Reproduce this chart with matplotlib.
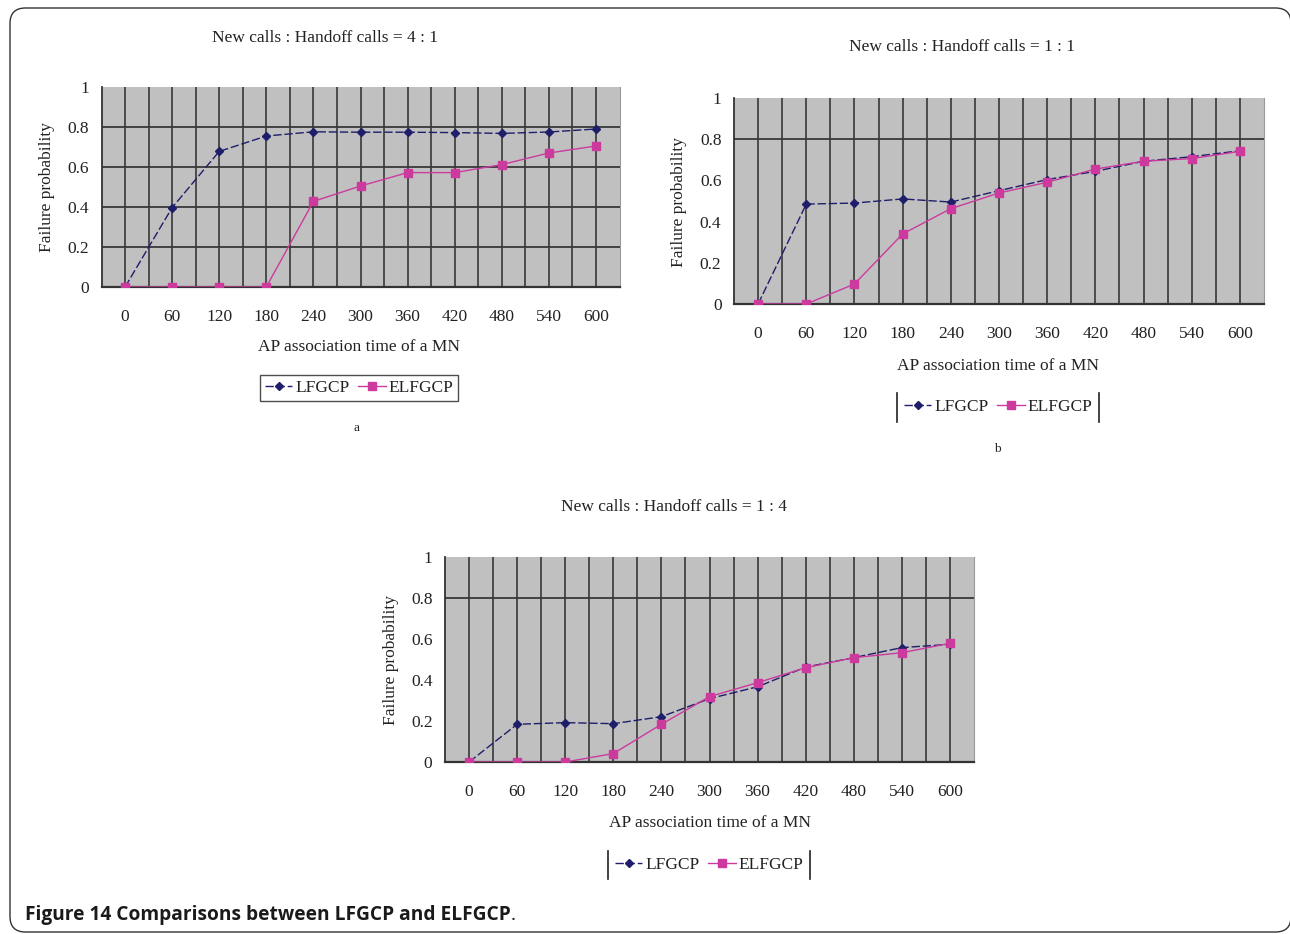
import matplotlib
matplotlib.use("Agg")
import matplotlib.pyplot as plt
from matplotlib.patches import FancyBboxPatch
from matplotlib.lines import Line2D

# ---------------- data ----------------
times = [0, 60, 120, 180, 240, 300, 360, 420, 480, 540, 600]
y_ticks = [0, 0.2, 0.4, 0.6, 0.8, 1.0]
y_tick_labels = ["0", "0.2", "0.4", "0.6", "0.8", "1"]

lfgcp_a = [0.0, 0.397, 0.678, 0.755, 0.776, 0.774, 0.774, 0.772, 0.768, 0.775, 0.790]
elfgcp_a = [0.0, 0.0, 0.0, 0.0, 0.428, 0.505, 0.572, 0.572, 0.612, 0.670, 0.705]

lfgcp_b = [0.0, 0.485, 0.490, 0.510, 0.495, 0.550, 0.604, 0.644, 0.693, 0.715, 0.744]
elfgcp_b = [0.0, 0.0, 0.097, 0.340, 0.463, 0.539, 0.591, 0.655, 0.693, 0.706, 0.741]

lfgcp_c = [0.0, 0.184, 0.192, 0.187, 0.221, 0.309, 0.367, 0.463, 0.509, 0.558, 0.574]
elfgcp_c = [0.0, 0.0, 0.0, 0.041, 0.184, 0.319, 0.387, 0.460, 0.509, 0.533, 0.579]

titles = ["New calls : Handoff calls = 4 : 1",
          "New calls : Handoff calls = 1 : 1",
          "New calls : Handoff calls = 1 : 4"]
x_label = "AP association time of a MN"
y_label = "Failure probability"
series_names = ["LFGCP", "ELFGCP"]
caption_bold = "Figure 14 Comparisons between LFGCP and ELFGCP"

# ---------------- style ----------------
W, H = 1290, 934
DPI = 100
SERIF = ["Liberation Serif", "DejaVu Serif"]
NAVY = "#1e1e6a"
MAGENTA = "#cc3a9e"
BG = "#c0c0c0"
GRID = "#383838"
FS = 12.5

fig = plt.figure(figsize=(W / DPI, H / DPI), dpi=DPI)
fig.patch.set_facecolor("white")


def fx(x):
    return x / W


def fy(y):
    return 1 - y / H


def make_axes(left, top, right, bottom, lf, el, hgrid):
    ax = fig.add_axes([fx(left), fy(bottom), fx(right - left), (bottom - top) / H])
    ax.set_facecolor(BG)
    idx = list(range(len(times)))
    ax.set_xlim(-0.5, len(times) - 0.5)
    ax.set_ylim(0, 1)
    # vertical grid at every half category
    for k in range(1, 2 * len(times)):
        xv = -0.5 + 0.5 * k
        ax.axvline(xv, color=GRID, lw=1.2, zorder=1)
    for yv in hgrid:
        ax.axhline(yv, color=GRID, lw=1.3, zorder=1)
    ax.plot(idx, lf, color=NAVY, lw=1.0, ls=(0, (6, 2)), marker="D", ms=4,
            mfc=NAVY, mec=NAVY, zorder=3, label=series_names[0])
    ax.plot(idx, el, color=MAGENTA, lw=1.0, ls="-", marker="s", ms=5.5,
            mfc=MAGENTA, mec=MAGENTA, zorder=4, label=series_names[1])
    ax.set_xticks(idx)
    ax.set_xticklabels([str(t) for t in times])
    ax.set_yticks(y_ticks)
    ax.set_yticklabels(y_tick_labels)
    ax.tick_params(axis="x", length=0, pad=15.5, labelsize=FS)
    ax.tick_params(axis="y", length=0, pad=9, labelsize=FS)
    for lab in ax.get_xticklabels() + ax.get_yticklabels():
        lab.set_family(SERIF)
        lab.set_color("#222222")
    ax.spines["top"].set_visible(False)
    ax.spines["right"].set_color("#9a9a9a")
    ax.spines["left"].set_color("#333333")
    ax.spines["bottom"].set_color("#333333")
    ax.spines["left"].set_linewidth(1.3)
    ax.spines["bottom"].set_linewidth(1.6)
    return ax


ax_a = make_axes(101.5, 87, 619.5, 287, lfgcp_a, elfgcp_a, [0.2, 0.4, 0.6, 0.8])
ax_b = make_axes(734, 98, 1264, 304, lfgcp_b, elfgcp_b, [0.8])
ax_c = make_axes(445, 557, 974, 762, lfgcp_c, elfgcp_c, [0.8])


def ftext(x, y, s, **kw):
    kw.setdefault("family", SERIF)
    kw.setdefault("fontsize", FS)
    kw.setdefault("color", "#222222")
    kw.setdefault("ha", "center")
    kw.setdefault("va", "center")
    fig.text(fx(x), fy(y), s, **kw)


# titles
ftext(325, 38, titles[0])
ftext(962, 47, titles[1])
ftext(674, 507, titles[2])
# x labels
ftext(359, 347, x_label)
ftext(998, 366, x_label)
ftext(710, 823, x_label)
# y labels
ftext(47, 187, y_label, rotation=90)
ftext(679, 202, y_label, rotation=90)
ftext(391, 660, y_label, rotation=90)
# sub labels
ftext(357, 428, "a", fontsize=9.5)
ftext(997, 449, "b", fontsize=9.5)


# legends
def add_legend(ax, cx, cy, framed):
    handles, labels = ax.get_legend_handles_labels()
    leg = fig.legend(handles, labels, loc="center",
                     bbox_to_anchor=(fx(cx), fy(cy)), bbox_transform=fig.transFigure,
                     ncol=2, frameon=framed, fancybox=False, handlelength=1.6,
                     handletextpad=0.15, columnspacing=0.5, borderpad=0.3,
                     prop={"family": SERIF, "size": FS})
    if framed:
        fr = leg.get_frame()
        fr.set_edgecolor("#222222")
        fr.set_linewidth(1.0)
    for t in leg.get_texts():
        t.set_color("#222222")
    return leg


add_legend(ax_a, 359, 388, True)
add_legend(ax_b, 998, 407, False)
add_legend(ax_c, 709, 865, False)

# vertical bars framing the b and c legends
for (xl, xr, yt, yb) in [(897, 1099, 393, 422), (608, 810, 851, 879)]:
    for xv in (xl, xr):
        fig.add_artist(Line2D([fx(xv), fx(xv)], [fy(yb), fy(yt)],
                              transform=fig.transFigure, color="#222222", lw=1.2))

# outer rounded border
border = FancyBboxPatch((fx(10), fy(932)), fx(1281), (932 - 8) / H,
                        boxstyle="round,pad=0,rounding_size=0.012",
                        transform=fig.transFigure, fill=False,
                        edgecolor="#333333", lw=1.0, mutation_aspect=W / H)
fig.add_artist(border)

# caption
cap = fig.text(fx(25), fy(915), caption_bold, family=["Open Sans", "DejaVu Sans"],
               fontweight="bold", fontsize=13.8, color="#1a1a1a", ha="left", va="center")
fig.canvas.draw()
bb = cap.get_window_extent(renderer=fig.canvas.get_renderer())
fig.text(bb.x1 / W, fy(915), ".", family=["Open Sans", "DejaVu Sans"],
         fontsize=13.8, color="#1a1a1a", ha="left", va="center")

fig.savefig("out.png", dpi=DPI)
